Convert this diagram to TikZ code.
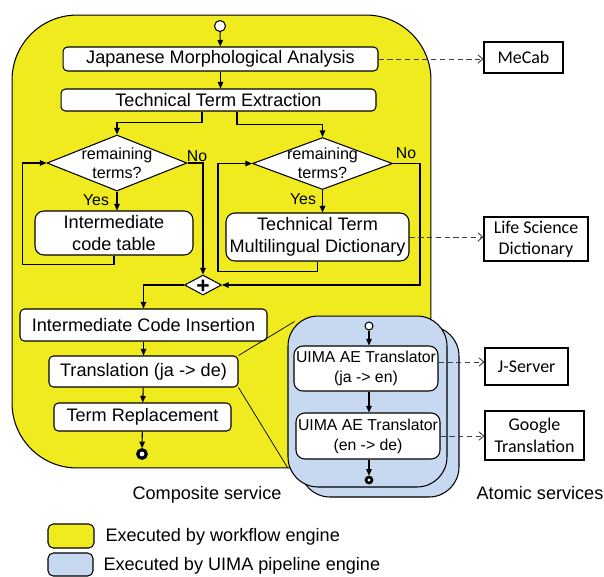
\documentclass[tikz,border=0pt]{standalone}
\usepackage{fontspec}
\setmainfont{Liberation Sans}
\newfontfamily\narrowfont{Carlito}
\usetikzlibrary{shapes.geometric,arrows.meta}
\definecolor{wfyellow}{RGB}{240,235,30}
\definecolor{uimablue}{RGB}{198,217,240}
\newcommand{\mainsz}{\fontsize{10.3}{12.4}\selectfont}
\newcommand{\decsz}{\fontsize{9.2}{10.8}\selectfont}
\newcommand{\uimasz}{\fontsize{9}{11.4}\selectfont}

\begin{document}
\begin{tikzpicture}[x=0.02cm,y=-0.02cm,line width=0.6pt,
    box/.style={draw,fill=white,rounded corners=2.5pt,inner sep=0pt,font=\mainsz,align=center},
    bigbox/.style={box,rounded corners=5pt},
    uimabox/.style={box,rounded corners=5pt,font=\uimasz},
    extbox/.style={draw,fill=white,inner sep=0pt,font=\narrowfont\fontsize{10.2}{12.2}\selectfont,align=center},
    decision/.style={diamond,draw,fill=white,inner sep=0pt,minimum width=2.8cm,minimum height=1.12cm},
    dectext/.style={font=\decsz,align=center},
    lbl/.style={font=\fontsize{9}{10}\selectfont,inner sep=0pt},
    arr/.style={-{Triangle[length=1.3mm,width=1.1mm]}},
    extarr/.style={densely dashed,draw=black!75,line width=0.5pt,-{Straight Barb[length=1mm,width=1.7mm]}},
    startc/.style={circle,draw,fill=white,inner sep=0pt,minimum size=0.22cm},
    endc/.style={circle,draw,fill=white,inner sep=0pt,minimum size=0.17cm,line width=1.8pt}]
  \useasboundingbox (0,0) rectangle (604,576);

  % workflow engine
  \node[draw,fill=wfyellow,rounded corners=1.3cm,minimum width=8.38cm,minimum height=9.06cm] (wf) at (221.5,241.5) {};
  \node[startc] (s1) at (220,26) {};
  \node[box,minimum width=6.3cm,minimum height=0.48cm] (jma) at (220.5,59) {Japanese Morphological Analysis};
  \node[box,minimum width=6.3cm,minimum height=0.44cm] (tte) at (218.5,100) {Technical Term Extraction};
  \node[decision,label={[dectext,name=q1t]center:{remaining\\terms?}}] (q1) at (117,163) {};
  \node[decision,minimum height=1.04cm,label={[dectext,name=q2t]center:{remaining\\terms?}}] (q2) at (322.5,163.5) {};
  \node[bigbox,minimum width=3.16cm,minimum height=0.88cm] (ict) at (114,233) {Intermediate\\code table};
  \node[bigbox,minimum width=3.66cm,minimum height=0.96cm] (ttd) at (317.5,237) {Technical Term\\Multilingual Dictionary};
  \node[diamond,draw,fill=white,inner sep=0pt,minimum width=0.74cm,minimum height=0.4cm] (mrg) at (203,285) {};
  \node[font=\bfseries\fontsize{13}{13}\selectfont,inner sep=0pt] (plus) at (203,286.5) {+};
  \node[box,minimum width=4.94cm,minimum height=0.64cm] (ici) at (143.5,325) {Intermediate Code Insertion};
  \node[box,minimum width=3.78cm,minimum height=0.62cm] (tr) at (143.5,371.5) {Translation (ja -> de)};
  \node[box,minimum width=3.54cm,minimum height=0.56cm] (trp) at (142.5,417) {Term Replacement};
  \node[endc] (e1) at (142,454) {};

  \node[lbl] (no1) at (197,156) {No};
  \node[lbl] (yes1) at (96,200) {Yes};
  \node[lbl] (no2) at (406,153) {No};
  \node[lbl] (yes2) at (303,199) {Yes};

  \draw[arr] (s1) -- (jma);
  \draw[arr] (jma) -- (jma.south |- tte.north);
  \draw[arr] ([xshift=-0.33cm]tte.south) -- ++(0,11) -| (q1.north);
  \draw[arr] ([xshift=0.37cm]tte.south) -- ++(0,13) -| (q2.north);
  \draw[arr] (q1.south) -- (q1.south |- ict.north);
  \draw[arr] (ict.south) -- ++(0,9) -| ([xshift=-0.48cm]q1.west) -- (q1.west);
  \draw[arr] (q1.east) -| (mrg.north);
  \draw[arr] (q2.south) -- (q2.south |- ttd.north);
  \draw[arr] (ttd.south) -- ++(0,10) -| ([xshift=-0.68cm]q2.west) -- (q2.west);
  \draw[arr] (q2.east) -- ++(27,0) |- (mrg.east);
  \draw[arr] (mrg.west) -| (ici.north);
  \draw[arr] (ici) -- (tr);
  \draw[arr] (tr) -- (trp);
  \draw[arr] (trp) -- (e1);

  % UIMA pipeline
  \node[draw,fill=uimablue,rounded corners=0.6cm,minimum width=3.18cm,minimum height=3.42cm] (pipeb) at (379.5,411.5) {};
  \draw[line width=0.4pt] (tr.north east) -- ([xshift=-0.1cm,yshift=0.08cm]pipeb.north west);
  \draw[line width=0.4pt] (tr.south east) -- ([xshift=-0.24cm,yshift=0.6cm]pipeb.south west);
  \node[draw,fill=uimablue,rounded corners=0.6cm,minimum width=3.18cm,minimum height=3.42cm] (pipe) at (367.5,401.5) {};
  \node[startc,minimum size=0.16cm] (s2) at (369,326) {};
  \node[uimabox,minimum width=2.88cm,minimum height=0.9cm] (u1) at (366,368.5) {UIMA AE Translator\\(ja -> en)};
  \node[uimabox,minimum width=2.88cm,minimum height=0.92cm] (u2) at (368,436) {UIMA AE Translator\\(en -> de)};
  \node[endc,minimum size=0.12cm,line width=1.5pt] (e2) at (369,480) {};
  \draw[arr] (s2) -- (s2 |- u1.north);
  \draw[arr] (u1.south -| s2) -- (s2 |- u2.north);
  \draw[arr] (u2.south -| s2) -- (e2);

  % external services
  \node[extbox,minimum width=1.58cm,minimum height=0.62cm] (mecab) at (523.5,57.5) {MeCab};
  \node[extbox,minimum width=2.08cm,minimum height=0.88cm] (lsd) at (536,239) {Life Science\\Dictionary};
  \node[extbox,minimum width=1.66cm,minimum height=0.74cm] (js) at (526.5,366.5) {J-Server};
  \node[extbox,minimum width=1.98cm,minimum height=0.98cm] (gt) at (534.5,435.5) {Google\\Translation};
  \coordinate (j1) at ([yshift=0.13cm]u1.east);
  \draw[extarr] (jma.east) -- (jma.east -| mecab.west);
  \draw[extarr] (ttd.east) -- (ttd.east -| lsd.west);
  \draw[extarr] (j1) -- (j1 -| js.west);
  \draw[extarr] (u2.east) -- (u2.east -| gt.west);

  \node[font=\mainsz] (comp) at (207,495) {Composite service};
  \node[font=\mainsz] (atom) at (540,493) {Atomic services};

  % legend
  \node[draw,fill=wfyellow,rounded corners=3pt,minimum width=0.92cm,minimum height=0.48cm] (legwf) at (71,536) {};
  \node[draw,fill=uimablue,rounded corners=3pt,minimum width=0.9cm,minimum height=0.46cm] (leguima) at (70.5,564.5) {};
  \node[font=\mainsz,anchor=west,inner sep=0pt] (legwft) at (105,537) {Executed by workflow engine};
  \node[font=\mainsz,anchor=west,inner sep=0pt] (leguimat) at (103,566) {Executed by UIMA pipeline engine};
\end{tikzpicture}
\end{document}
